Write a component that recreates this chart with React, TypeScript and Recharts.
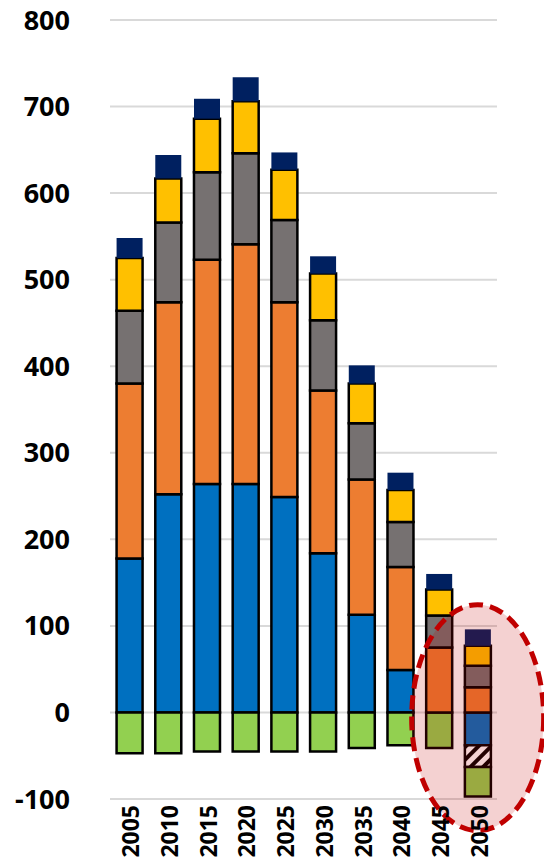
import React from 'react';
import { BarChart, Bar, XAxis, YAxis, CartesianGrid, ReferenceDot } from 'recharts';

const years = ['2005', '2010', '2015', '2020', '2025', '2030', '2035', '2040', '2045', '2050'];
const blueSeries = [178, 252, 264, 264, 249, 184, 113, 49, 0, -38];
const hatchSeries = [0, 0, 0, 0, 0, 0, 0, 0, 0, -25];
const greenSeries = [-47, -47, -45, -45, -45, -45, -41, -38, -41, -34];
const orangeSeries = [202, 222, 259, 277, 225, 188, 156, 119, 75, 29];
const graySeries = [84, 92, 101, 105, 95, 81, 65, 52, 37, 25];
const yellowSeries = [61, 51, 62, 60, 58, 54, 46, 37, 30, 23];
const navySeries = [23, 27, 23, 28, 20, 20, 21, 20, 18, 19];
const yTicks = [-100, 0, 100, 200, 300, 400, 500, 600, 700, 800];

const data = years.map((year, i) => ({
  year,
  blue: blueSeries[i],
  hatch: hatchSeries[i],
  green: greenSeries[i],
  orange: orangeSeries[i],
  gray: graySeries[i],
  yellow: yellowSeries[i],
  navy: navySeries[i],
}));

const FONT = '"Open Sans", "Liberation Sans", sans-serif';

const YTick = (props: any) => {
  const { x, y, payload } = props;
  return (
    <text x={x - 40} y={y - 1} textAnchor="end" dominantBaseline="central"
      fontFamily={FONT} fontWeight={700} fontSize={27} fill="#000">
      {payload.value}
    </text>
  );
};

const XTick = (props: any) => {
  const { x, y, payload } = props;
  return (
    <text transform={`translate(${x + 1},${y + 6}) rotate(-90)`} textAnchor="end"
      dominantBaseline="central" fontFamily={FONT} fontWeight={700} fontSize={23} fill="#000">
      {payload.value}
    </text>
  );
};

// dashed highlight around the 2050 column
const Highlight = (props: any) => {
  const { cx, cy } = props;
  return (
    <ellipse cx={cx} cy={cy} rx={66} ry={113}
      fill="rgba(192,0,0,0.18)" stroke="#c00000" strokeWidth={5} strokeDasharray="14 7" />
  );
};

const edge = { stroke: '#000', strokeWidth: 2.5 };

export default function App() {
  return (
    <>
      <style>{'html,body{margin:0;padding:0;overflow:hidden}'}</style>
      <BarChart width={544} height={859} data={data} stackOffset="sign"
        margin={{ top: 20, right: 47, left: 0, bottom: 0 }} barCategoryGap="17%">
        <defs>
          <pattern id="hatch" patternUnits="userSpaceOnUse" width="9" height="9" patternTransform="rotate(45)">
            <rect width="9" height="9" fill="#fff" />
            <rect width="4" height="9" fill="#000" />
          </pattern>
        </defs>
        <CartesianGrid vertical={false} stroke="#d9d9d9" strokeWidth={2} />
        <XAxis dataKey="year" axisLine={false} tickLine={false} tickSize={0} tickMargin={0}
          height={60} interval={0} tick={<XTick />} />
        <YAxis domain={[-100, 800]} ticks={yTicks} axisLine={false} tickLine={false}
          tickSize={0} tickMargin={0} width={110} tick={<YTick />} interval={0} />
        <Bar dataKey="blue" stackId="s" fill="#0070c0" {...edge} isAnimationActive={false} />
        <Bar dataKey="hatch" stackId="s" fill="url(#hatch)" {...edge} isAnimationActive={false} />
        <Bar dataKey="green" stackId="s" fill="#92d050" {...edge} isAnimationActive={false} />
        <Bar dataKey="orange" stackId="s" fill="#ed7d31" {...edge} isAnimationActive={false} />
        <Bar dataKey="gray" stackId="s" fill="#767171" {...edge} isAnimationActive={false} />
        <Bar dataKey="yellow" stackId="s" fill="#ffc000" {...edge} isAnimationActive={false} />
        <Bar dataKey="navy" stackId="s" fill="#002060" isAnimationActive={false} />
        <ReferenceDot x="2050" y={-6} ifOverflow="visible" shape={<Highlight />} />
      </BarChart>
    </>
  );
}
